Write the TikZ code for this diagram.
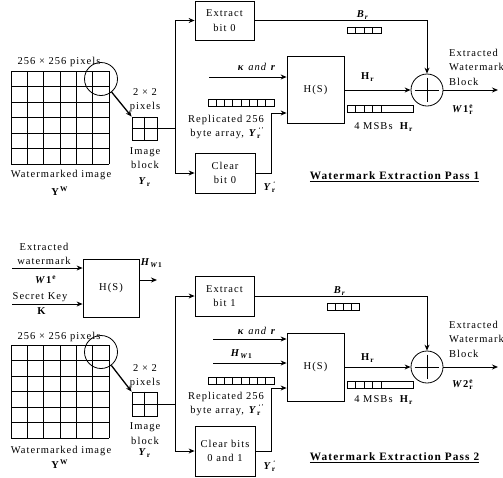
\documentclass[tikz,border=0pt]{standalone}
\usepackage{fontspec}
\setmainfont{Liberation Serif}[LetterSpace=10]
\usetikzlibrary{arrows.meta,calc}
\newcommand{\Yr}{\textbf{\textit{Y}}\textsubscript{\textbf{r}}}
\newcommand{\Yrp}{\textbf{\textit{Y}}\rlap{\textsuperscript{\,`}}\textsubscript{\textbf{r}}}
\newcommand{\Yrpp}{\textbf{\textit{Y}}\rlap{\textsuperscript{\,`'}}\textsubscript{\textbf{r}}}
\newcommand{\YW}{\textbf{Y}\textsuperscript{\textbf{W}}}
\newcommand{\Hr}{\textbf{H}\textsubscript{\textbf{r}}}
\newcommand{\Br}{\textbf{\textit{B}}\textsubscript{\textbf{\textit{r}}}}
\newcommand{\HWone}{\textbf{\textit{H}}\textsubscript{\textbf{\textit{W}}\textbf{1}}}
\newcommand{\kandr}{\textbf{\textit{κ}}\ \textit{and} \textbf{\textit{r}}}
\begin{document}
\begin{tikzpicture}[x=1pt,y=-1pt,
 every node/.style={font=\fontsize{10.5}{14.5}\selectfont, inner sep=0pt},
 box/.style={draw, line width=0.8pt, align=center, inner sep=0pt},
 arr/.style={-{Stealth[length=6pt,width=5pt]}, line width=1pt},
 ln/.style={line width=0.8pt},
 txt/.style={align=center},
 ttl/.style={font=\fontsize{11.3}{13}\selectfont\bfseries},
]
\useasboundingbox (0,0) rectangle (503,477);

% ================= PASS 1 =================
% image grid
\foreach \i in {0,...,6} {
  \draw[ln] (11+\i*16.333,71) -- (11+\i*16.333,164);
  \draw[ln] (11,71+\i*15.5) -- (109,71+\i*15.5);
}
\node[draw, circle, line width=0.8pt, minimum size=33pt] (zc1) at (101,79) {};
\node (g1t) at (59,62) {256 × 256 pixels};
\node (g1b) at (61,175) {Watermarked image};
\node (g1y) at (60,191) {\YW};

\node[draw, line width=0.8pt, minimum width=25pt, minimum height=23pt] (b1) at (144.5,128.5) {};
\draw[ln] (b1.north) -- (b1.south);
\draw[ln] (b1.west) -- (b1.east);
\node[txt] (b1t) at (145,100) {2 × 2\\pixels};
\node[txt] (b1b) at (145,158) {Image\\block};
\node (b1y) at (145,182) {\Yr};
\draw[arr, line width=1.3pt] (zc1) -- (b1.north west);

\node[box, minimum width=59pt, minimum height=39pt] (ex1) at (224.5,20.5) {Extract\\bit 0};
\node[box, minimum width=57pt, minimum height=67pt] (h1) at (315.5,90) {H(S)};
\node[box, minimum width=60pt, minimum height=40pt] (cl1) at (225,173) {Clear\\bit 0};
\node[draw, circle, line width=0.8pt, minimum size=32pt] (x1) at (427,90) {};
\draw[ln] ([xshift=4pt]x1.west) -- ([xshift=-4pt]x1.east);
\draw[ln] ([yshift=-4pt]x1.north) -- ([yshift=4pt]x1.south);

\coordinate (t1) at (175,128.5);
\draw[ln] (b1.east) -- (t1);
\draw[arr] (t1) |- (ex1.west);
\draw[arr] (t1) |- (cl1.west);
\draw[arr] (ex1.east) -| (x1.north);
\draw[arr] (h1.east) -- (x1.west);
\coordinate (o1) at (498,90);
\draw[arr] (x1.east) -- (o1);
\coordinate (k1) at (209,77);
\draw[arr] (k1) -- (k1 -| h1.west);
\coordinate (c1) at (271,113);
\draw[arr] (cl1.east) -| (c1) -- (c1 -| h1.west);

\node (k1l) at (257,67) {\kandr};
\foreach \i in {0,...,7} \draw[ln] (208+\i*8.25,99) rectangle ++(8.25,7);
\node[txt] (rep1) at (226,127) {Replicated 256\\byte array,\ \Yrpp};
\node (y1p) at (270,187) {\Yrp};
\node (br1) at (363,15) {\Br};
\foreach \i in {0,...,3} \draw[ln] (347+\i*8.5,27) rectangle ++(8.5,6.5);
\node (hr1) at (368,77) {\Hr};
\foreach \i in {0,...,3} \draw[ln] (347+\i*8.5,105) rectangle ++(8.5,7);
\draw[ln] (381,105) rectangle (413,112);
\node (ms1) at (384,127) {4 MSBs\ \ \Hr};
\node[align=left, anchor=north west] (ew1) at (449,49) {Extracted\\Watermark\\Block};
\node (w1) at (463,110) {\textbf{\textit{W}}\textbf{1}\rlap{\textsuperscript{\textbf{e}}}\textsubscript{\textbf{r}}};
\node[ttl] (p1) at (394.5,177) {\underline{Watermark Extraction Pass 1}};

% ================= PASS 2 =================
\node[box, minimum width=56pt, minimum height=58pt] (h0) at (111,288) {H(S)};
\coordinate (w0) at (12,268);
\draw[arr] (w0) -- (w0 -| h0.west);
\coordinate (s0) at (12,304);
\draw[arr] (s0) -- (s0 -| h0.west);
\coordinate (hw) at (157,280);
\draw[arr] (hw -| h0.east) -- (hw);
\node[txt] (ewl) at (44,254) {Extracted\\watermark};
\node (w1e) at (46,280) {\textbf{\textit{W}}\textbf{1}\textsuperscript{\textbf{e}}};
\node (sk) at (40,297) {Secret Key};
\node (kk) at (42,311) {\textbf{K}};
\node (hw0) at (152,263) {\HWone};

\foreach \i in {0,...,6} {
  \draw[ln] (11+\i*16.333,345) -- (11+\i*16.333,438);
  \draw[ln] (11,345+\i*15.5) -- (109,345+\i*15.5);
}
\node[draw, circle, line width=0.8pt, minimum size=33pt] (zc2) at (101,352) {};
\node (g2t) at (59,337) {256 × 256 pixels};
\node (g2b) at (61,451) {Watermarked image};
\node (g2y) at (60,464) {\YW};

\node[draw, line width=0.8pt, minimum width=25pt, minimum height=24pt] (b2) at (144.5,404) {};
\draw[ln] (b2.north) -- (b2.south);
\draw[ln] (b2.west) -- (b2.east);
\node[txt] (b2t) at (145,376) {2 × 2\\pixels};
\node[txt] (b2b) at (145,433.5) {Image\\block};
\node (b2y) at (145,453) {\Yr};
\draw[arr, line width=1.3pt] (zc2) -- (b2.north west);

\node[box, minimum width=59pt, minimum height=40pt] (ex2) at (224.5,296) {Extract\\bit 1};
\node[box, minimum width=57pt, minimum height=68pt] (h2) at (315.5,367) {H(S)};
\node[box, minimum width=60pt, minimum height=50pt] (cl2) at (225,451) {Clear bits\\0 and 1};
\node[draw, circle, line width=0.8pt, minimum size=32pt] (x2) at (427,367) {};
\draw[ln] ([xshift=4pt]x2.west) -- ([xshift=-4pt]x2.east);
\draw[ln] ([yshift=-4pt]x2.north) -- ([yshift=4pt]x2.south);

\coordinate (t2) at (175,404);
\draw[ln] (b2.east) -- (t2);
\draw[arr] (t2) |- (ex2.west);
\draw[arr] (t2) |- (cl2.west);
\draw[arr] (ex2.east) -| (x2.north);
\draw[arr] (h2.east) -- (x2.west);
\coordinate (o2) at (498,367);
\draw[arr] (x2.east) -- (o2);
\coordinate (k2) at (213,339);
\draw[arr] (k2) -- (k2 -| h2.west);
\coordinate (k3) at (213,363);
\draw[arr] (k3) -- (k3 -| h2.west);
\coordinate (c2) at (271,388);
\draw[arr] (cl2.east) -| (c2) -- (c2 -| h2.west);

\node (k2l) at (257,331) {\kandr};
\node (k3l) at (242,354) {\HWone};
\foreach \i in {0,...,7} \draw[ln] (208+\i*8.25,377) rectangle ++(8.25,7);
\node[txt] (rep2) at (226,404) {Replicated 256\\byte array,\ \Yrpp};
\node (y2p) at (270,466) {\Yrp};
\node (br2) at (340,291) {\Br};
\foreach \i in {0,...,3} \draw[ln] (327+\i*8,303) rectangle ++(8,7);
\node (hr2) at (368,358) {\Hr};
\foreach \i in {0,...,3} \draw[ln] (347+\i*8.5,381) rectangle ++(8.5,7);
\draw[ln] (381,381) rectangle (413,388);
\node (ms2) at (384,400) {4 MSBs\ \ \Hr};
\node[align=left, anchor=north west] (ew2) at (449,321) {Extracted\\Watermark\\Block};
\node (w2) at (463,385) {\textbf{\textit{W}}\textbf{2}\rlap{\textsuperscript{\textbf{e}}}\textsubscript{\textbf{r}}};
\node[ttl] (p2) at (394.5,458) {\underline{Watermark Extraction Pass 2}};
\end{tikzpicture}
\end{document}
